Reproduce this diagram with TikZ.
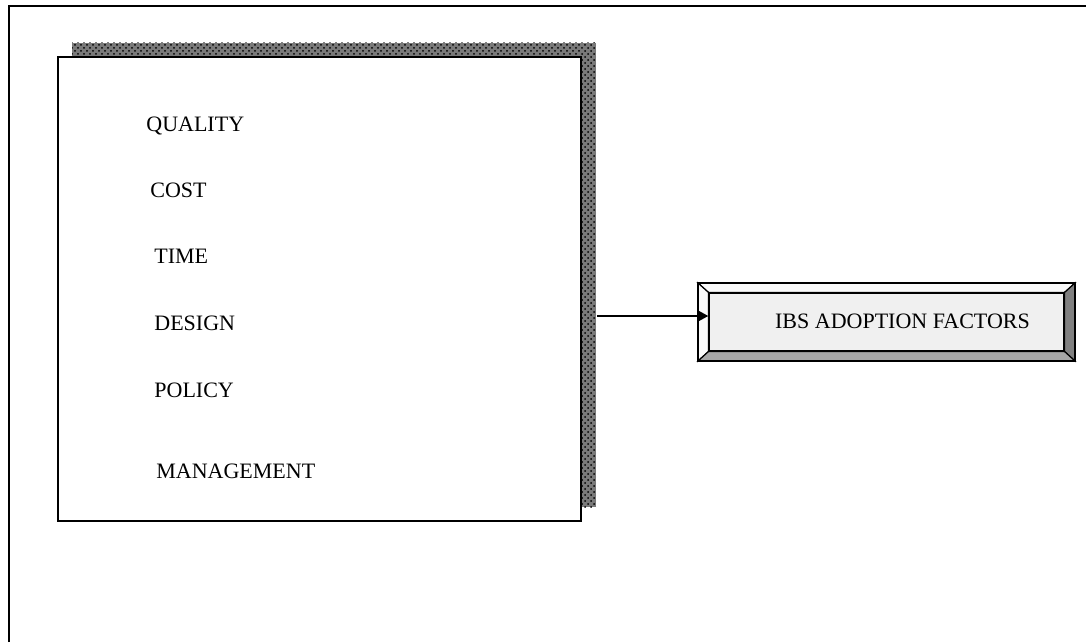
\documentclass[tikz,border=0pt]{standalone}
\usepackage{fontspec}
\setmainfont{Liberation Serif}
\usetikzlibrary{positioning,arrows.meta,patterns}

\definecolor{shadowgray}{HTML}{7A7A7A}
\definecolor{facegray}{HTML}{F0F0F0}
\definecolor{lightbevel}{HTML}{FAFAFA}
\definecolor{darkbevel}{HTML}{808080}
\definecolor{midbevel}{HTML}{A6A6A6}

\tikzset{
  factor/.style={anchor=west, inner sep=0pt, font=\fontsize{11}{13}\selectfont},
  framebox/.style={draw, line width=1pt, fill=white, inner sep=0pt},
  bevel/.style={draw, line width=0.6pt, line join=miter}
}

\begin{document}
\begin{tikzpicture}[x=0.5pt, y=-0.5pt]
\useasboundingbox (0,0) rectangle (1086,642);

% Outer frame (left and top edges only)
\draw [line width=1pt] (9,642) -- (9,6) -- (1086,6);

% Shadow behind the factor box
\fill [shadowgray] (72,43) rectangle (596,507);
\fill [pattern=crosshatch dots, pattern color=black] (72,43) rectangle (596,507);
\coordinate (tail) at (597,316);

% Factor box
\node [framebox, minimum width=261.5pt, minimum height=232pt] (box) at (319.5,289) {};

% Factors
\node [factor] (quality)    at (146,126) {QUALITY};
\node [factor] (cost)       at (150,190) {COST};
\node [factor] (time)       at (154,256) {TIME};
\node [factor] (design)     at (154,323) {DESIGN};
\node [factor] (policy)     at (154,390) {POLICY};
\node [factor] (management) at (156,471) {MANAGEMENT};

% Bevelled box
\coordinate (o1) at (698,283);
\coordinate (o2) at (1075,283);
\coordinate (o3) at (1075,361);
\coordinate (o4) at (698,361);
\node [draw, line width=0.6pt, fill=facegray, inner sep=0pt,
       minimum width=177.5pt, minimum height=29pt] (ibs) at (886.5,322) {};
\filldraw [bevel, fill=lightbevel] (o1) -- (o2) -- (ibs.north east) -- (ibs.north west) -- cycle;
\filldraw [bevel, fill=lightbevel] (o1) -- (ibs.north west) -- (ibs.south west) -- (o4) -- cycle;
\filldraw [bevel, fill=darkbevel] (o2) -- (o3) -- (ibs.south east) -- (ibs.north east) -- cycle;
\filldraw [bevel, fill=midbevel] (o4) -- (ibs.south west) -- (ibs.south east) -- (o3) -- cycle;
\draw [line width=1pt] (o1) rectangle (o3);
\node [factor, anchor=center] (ibstext) at (902.5,321) {IBS ADOPTION FACTORS};

% Connector
\draw [line width=1.3pt, -{Triangle[length=5pt,width=5pt]}] (tail) -- ([yshift=3pt]ibs.west);

\end{tikzpicture}
\end{document}
